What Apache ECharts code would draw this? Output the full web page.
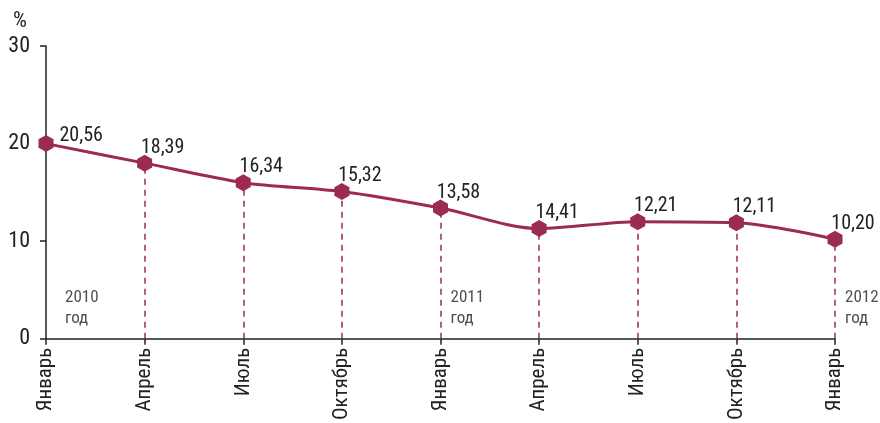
<!DOCTYPE html>
<html><head><meta charset="utf-8">
<script src="https://cdn.jsdelivr.net/npm/echarts@6/dist/echarts.min.js"></script>
<style>html,body{margin:0;padding:0;background:#fff}#c{width:880px;height:423px}</style>
</head><body><div id="c"></div>
<script>
const categories = ['Январь','Апрель','Июль','Октябрь','Январь','Апрель','Июль','Октябрь','Январь'];
const values = [20.0, 18.0, 16.0, 15.1, 13.4, 11.3, 12.0, 11.9, 10.2];
const valueLabels = ['20,56','18,39','16,34','15,32','13,58','14,41','12,21','12,11','10,20'];
const yearIndex = [0, 4, 8];
const yearLabels = ['2010\nгод','2011\nгод','2012\nгод'];
const yearLabelY = 3.1;
const yTicks = [0, 10, 20, 30];

const FONT = '"Liberation Sans Narrow", "Roboto Condensed", Roboto, sans-serif';
const C = '#9c2b50';
const TXT = '#222';
const hex = 'path://M50 0 L93.3 25 L93.3 75 L50 100 L6.7 75 L6.7 25 Z';

const chart = echarts.init(document.getElementById('c'), null, {renderer:'canvas'});
chart.setOption({
  animation:false,
  grid:{left:46,right:45,top:46,bottom:81,containLabel:false},
  xAxis:{type:'category',data:categories,boundaryGap:false,
    axisLine:{lineStyle:{color:'#222',width:1.5}},
    axisTick:{show:true,length:6,lineStyle:{color:'#222',width:1.5}},
    axisLabel:{rotate:90,color:TXT,fontFamily:FONT,fontSize:21,margin:9,interval:0},
    splitLine:{show:false}},
  yAxis:{type:'value',min:0,max:30,interval:10,
    name:'%',nameLocation:'end',nameGap:14,
    nameTextStyle:{fontFamily:FONT,fontSize:22,color:TXT,align:'right',padding:[0,19,0,0]},
    axisLine:{show:true,lineStyle:{color:'#222',width:1.5}},
    axisTick:{show:true,length:6,lineStyle:{color:'#222',width:1.5}},
    axisLabel:{color:TXT,fontFamily:FONT,fontSize:22,margin:16,
      formatter:v=>yTicks.includes(v)?String(v):''},
    splitLine:{show:false}},
  series:[
    {type:'line',smooth:0.3,symbol:hex,symbolSize:[15,17],
     data:values.map((v,i)=>({value:v,
       label:i===0?{position:'right',offset:[0,-8],distance:6}:{position:'top',offset:[18,3],distance:0}})),
     lineStyle:{color:C,width:3},itemStyle:{color:C},z:3,
     label:{show:true,fontFamily:FONT,fontSize:20,color:TXT,
       formatter:p=>valueLabels[p.dataIndex]},
     markLine:{silent:true,symbol:'none',animation:false,
       lineStyle:{color:C,type:[6,5],width:1.5},label:{show:false},
       data:values.map((v,i)=>i===0?null:[{coord:[i,0]},{coord:[i,v]}]).filter(Boolean)}
    },
    {type:'scatter',symbolSize:0,z:4,
     data:yearIndex.map((i,k)=>({value:[i,yearLabelY],
       label:{distance:k===0?19:10}})),
     label:{show:true,position:'right',align:'left',fontFamily:FONT,fontSize:17,
       lineHeight:21,color:TXT,formatter:p=>yearLabels[p.dataIndex]}}
  ]
});
</script></body></html>
